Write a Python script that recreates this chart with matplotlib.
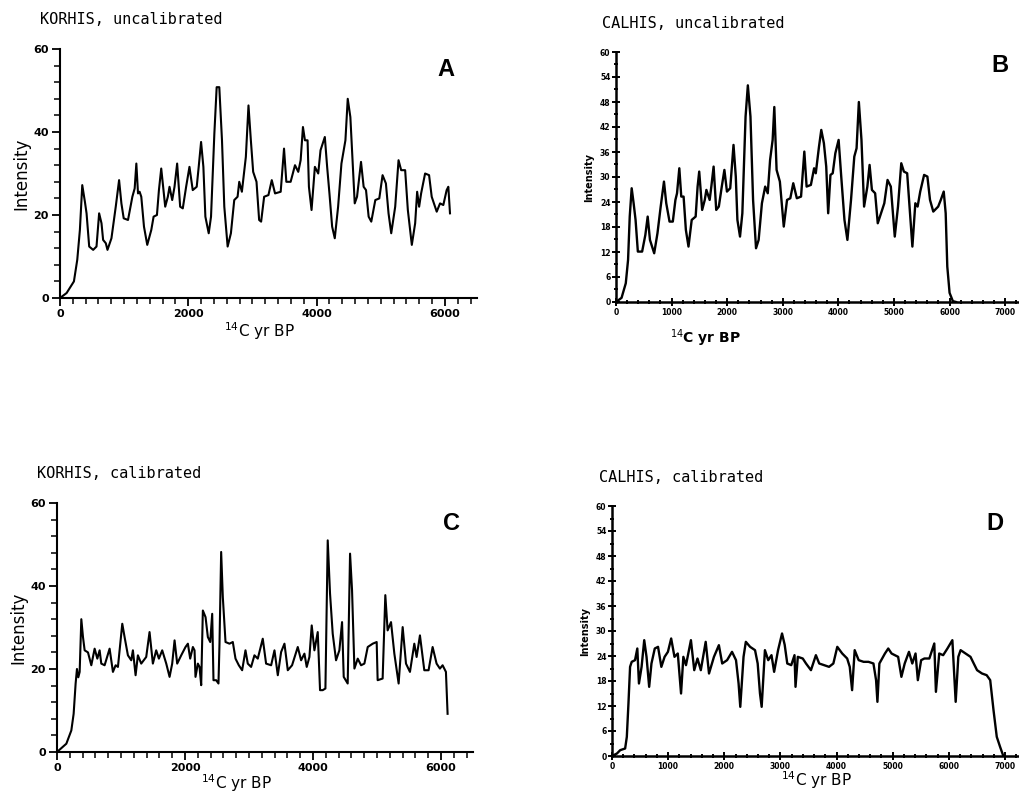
import matplotlib
matplotlib.use("Agg")
import matplotlib.pyplot as plt
from matplotlib.ticker import MultipleLocator

# Panel A: KORHIS, uncalibrated
a_year = [0, 103, 217, 269, 310, 347, 388, 414, 455, 517, 569, 610, 647, 672, 714, 740,
          802, 869, 921, 957, 993, 1060, 1128, 1164, 1190, 1216, 1241, 1267, 1309, 1360,
          1423, 1459, 1511, 1542, 1578, 1614, 1640, 1681, 1707, 1749, 1785, 1826, 1873,
          1914, 1966, 2018, 2069, 2131, 2162, 2199, 2235, 2266, 2318, 2354, 2406, 2442,
          2483, 2525, 2561, 2613, 2664, 2716, 2768, 2794, 2835, 2897, 2938, 2975, 3011,
          3063, 3104, 3135, 3182, 3249, 3301, 3352, 3440, 3492, 3528, 3595, 3663, 3714,
          3751, 3787, 3818, 3859, 3880, 3921, 3973, 4025, 4061, 4128, 4164, 4200, 4242,
          4283, 4335, 4387, 4449, 4485, 4526, 4552, 4594, 4630, 4692, 4733, 4770, 4811,
          4852, 4915, 4977, 5028, 5080, 5121, 5163, 5225, 5277, 5318, 5380, 5422, 5484,
          5536, 5567, 5598, 5629, 5691, 5753, 5794, 5872, 5924, 5975, 6027, 6053, 6079]
a_int = [0, 1.2, 4, 9.2, 16.4, 27.2, 23.2, 20.4, 12.4, 11.6, 12.4, 20.4, 18, 14, 13.2, 11.6,
         14.4, 22, 28.4, 22.8, 19.2, 18.8, 24.4, 26.4, 32.4, 25.2, 25.6, 24.4, 17.2, 12.8,
         16.4, 19.6, 20, 26, 31.2, 26, 22, 24.4, 26.8, 23.6, 26.8, 32.4, 22,
         21.6, 26.8, 31.6, 26, 26.8, 31.6, 37.6, 31.6, 19.6, 15.6, 19.6, 39.6, 50.8,
         50.8, 38, 22, 12.4, 15.6, 23.6, 24.4, 28, 25.6, 34, 46.4, 38, 30.4,
         28, 18.8, 18.4, 24.4, 24.8, 28.4, 25.2, 25.6, 36, 28, 28, 32, 30.4,
         33.2, 41.2, 38, 38, 26.8, 21.2, 31.6, 30, 35.6, 38.8, 31.6, 25.2, 17.2,
         14.4, 22, 32.4, 38, 48, 43.6, 35.6, 22.8, 24.4, 32.8, 26.8, 26, 19.6,
         18.4, 23.6, 24, 29.6, 27.6, 20.4, 15.6, 22, 33.2, 30.8, 30.8, 21.2, 12.8,
         18, 25.6, 22, 25.2, 30, 29.6, 24.4, 20.8, 22.8, 22.4, 26, 26.8, 20.4]

# Panel B: CALHIS, uncalibrated
b_year = [0, 100, 176, 217, 247, 282, 317, 352, 393, 470, 528, 570, 611, 687, 746, 804,
          863, 904, 963, 1022, 1069, 1098, 1139, 1174, 1216, 1257, 1304, 1362, 1433, 1468,
          1497, 1550, 1597, 1626, 1685, 1715, 1756, 1803, 1850, 1903, 1950, 1996, 2055,
          2114, 2155, 2184, 2231, 2273, 2331, 2372, 2419, 2466, 2519, 2566, 2625, 2684,
          2730, 2772, 2818, 2848, 2889, 2948, 3018, 3077, 3136, 3189, 3253, 3329, 3388,
          3429, 3506, 3564, 3594, 3652, 3693, 3740, 3782, 3817, 3858, 3899, 3946, 4005,
          4052, 4110, 4163, 4228, 4287, 4328, 4369, 4416, 4463, 4522, 4562, 4604, 4662,
          4709, 4768, 4827, 4885, 4944, 5015, 5073, 5132, 5179, 5238, 5285, 5332, 5385,
          5426, 5473, 5543, 5602, 5649, 5708, 5796, 5843, 5896, 5931, 5960, 6001, 6060, 6118]
b_int = [0, 1, 4.5, 10.1, 20.5, 27.3, 23.7, 19.7, 12.1, 12.1, 16.1, 20.5, 14.9, 11.7, 16.5, 22.9,
         28.9, 23.7, 19.3, 19.3, 24.5, 26.1, 32.1, 25.3, 25.3, 17.3, 13.3, 19.7, 20.5, 27.7,
         31.3, 22.1, 24.5, 26.9, 24.5, 27.7, 32.5, 22.1, 22.9, 27.7, 31.7, 26.5, 27.3,
         37.7, 30.1, 19.7, 15.7, 21.3, 44.5, 52, 44.5, 24.5, 12.9, 14.9, 23.7, 27.7,
         26.1, 34.1, 38.9, 46.8, 31.7, 28.9, 18.1, 24.5, 24.9, 28.5, 24.9, 25.3, 36.1,
         27.7, 28.1, 32.1, 30.9, 37.3, 41.3, 38.1, 32.5, 21.3, 30.5, 30.9, 35.7, 38.9,
         30.1, 19.7, 14.9, 24.5, 34.9, 36.9, 48, 38.9, 22.9, 27.7, 32.9, 26.9, 26.1,
         18.9, 21.3, 23.7, 29.3, 27.7, 15.7, 22.9, 33.3, 31.3, 30.9, 22.1, 13.3, 23.7,
         22.9, 26.5, 30.5, 30.1, 24.5, 21.7, 22.9, 24.5, 26.5, 21.3, 8.5, 2.2, 0.2, 0]

# Panel C: KORHIS, calibrated
c_year = [0, 146, 224, 260, 291, 312, 333, 354, 380, 406, 432, 484, 536, 588, 630, 666,
          692, 744, 822, 874, 916, 952, 989, 1020, 1056, 1108, 1160, 1186, 1228, 1264,
          1316, 1394, 1446, 1498, 1550, 1592, 1644, 1707, 1759, 1800, 1837, 1878, 1941,
          2008, 2045, 2081, 2123, 2149, 2164, 2201, 2227, 2253, 2279, 2321, 2357, 2394,
          2425, 2445, 2487, 2523, 2539, 2565, 2591, 2633, 2695, 2747, 2789, 2841, 2893,
          2945, 2981, 3033, 3085, 3137, 3215, 3267, 3346, 3398, 3450, 3502, 3554, 3606,
          3673, 3762, 3814, 3866, 3902, 3944, 3980, 4022, 4074, 4110, 4152, 4194, 4230,
          4266, 4308, 4360, 4412, 4454, 4480, 4542, 4579, 4610, 4647, 4699, 4751, 4803,
          4855, 4933, 4995, 5010, 5088, 5130, 5166, 5219, 5271, 5338, 5401, 5453, 5515,
          5583, 5619, 5671, 5739, 5806, 5869, 5931, 5983, 6025, 6077, 6103]
c_int = [0, 2, 5.2, 9.2, 16.5, 20, 18, 19.3, 32, 27.7, 24.5, 24, 20.9, 24.9, 22.5, 24.5,
         21.3, 20.9, 24.9, 19.3, 20.9, 20.5, 26.1, 30.9, 27.7, 23.3, 22.1, 24.5, 18.5, 23.3,
         21.3, 22.9, 28.9, 21.3, 24.5, 22.5, 24.5, 21.3, 18.1, 21.3, 26.9, 21.3, 23.3,
         25.3, 26.1, 22.5, 25.3, 24.5, 18.1, 21.3, 20.5, 16.1, 34.1, 32.5, 27.7, 26.5,
         33.3, 17.3, 17.3, 16.5, 26.1, 48.2, 37.3, 26.5, 26.1, 26.5, 22.5, 20.9, 19.7,
         24.5, 21.3, 20.5, 23.3, 22.5, 27.3, 21.3, 20.9, 24.5, 18.5, 24.1, 26.1, 19.7,
         20.9, 25.3, 22.1, 23.7, 20.5, 22.9, 30.5, 24.5, 28.9, 14.9, 14.9, 15.3, 51,
         38.2, 28.5, 22.1, 24.5, 31.3, 18.1, 16.5, 47.8, 39, 20.1, 22.5, 20.9, 21.3,
         25.3, 26.1, 26.5, 17.3, 17.7, 37.8, 29.3, 31.3, 23.7, 16.5, 30.1, 21.3, 19.3,
         26.1, 22.9, 28.1, 19.7, 19.7, 25.3, 21.3, 20.1, 20.9, 19.3, 9.2]

# Panel D: CALHIS, calibrated
d_year = [0, 88, 146, 234, 264, 293, 322, 351, 410, 451, 480, 527, 574, 615, 662, 703,
          762, 820, 879, 937, 996, 1054, 1113, 1172, 1230, 1271, 1318, 1406, 1465, 1523,
          1582, 1669, 1728, 1816, 1904, 1963, 2050, 2138, 2209, 2255, 2285, 2343, 2384,
          2460, 2548, 2595, 2636, 2666, 2724, 2783, 2841, 2888, 2958, 3029, 3076, 3122,
          3193, 3251, 3269, 3310, 3398, 3456, 3544, 3632, 3691, 3779, 3866, 3943, 4013,
          4101, 4189, 4235, 4277, 4323, 4394, 4482, 4569, 4657, 4704, 4728, 4763, 4862,
          4921, 4980, 5038, 5097, 5155, 5214, 5290, 5349, 5407, 5448, 5507, 5565, 5653,
          5741, 5770, 5829, 5899, 5975, 6063, 6122, 6169, 6210, 6298, 6386, 6444, 6503,
          6591, 6674, 6737, 6796, 6854, 6913, 6971]
d_int = [0, 0.6, 1.4, 1.8, 4.6, 12.6, 21.4, 22.6, 23, 25.8, 17.4, 21.4, 27.8, 23.8, 16.6, 22.2,
         25.8, 26.2, 21.4, 23.8, 25, 28.2, 23.8, 24.6, 15, 23.8, 21.8, 27.8, 20.6, 23.4,
         20.6, 27.4, 19.8, 23.8, 26.6, 22.2, 23, 25, 23, 17.4, 11.8, 23.8, 27.4,
         26.2, 25.4, 22.2, 15, 11.8, 25.4, 23, 24.2, 20.2, 25.4, 29.4, 26.7, 22.2,
         21.8, 24.2, 16.6, 23.8, 23.4, 22.2, 20.6, 24.2, 22.2, 21.8, 21.4, 22.2, 26.2,
         24.6, 23.4, 21.4, 15.8, 25.4, 23, 22.6, 22.6, 22.2, 18.2, 13, 22.2, 24.6,
         25.8, 24.6, 24.2, 23.8, 19, 22.2, 25, 22.2, 24.6, 18.2, 23, 23.4, 23.4,
         27, 15.4, 24.6, 24.2, 25.8, 27.8, 13, 23.8, 25.4, 24.6, 23.8, 22.2, 20.6,
         19.8, 19.4, 18.2, 11, 4.6, 2.2, 0]

titles = ["KORHIS, uncalibrated", "CALHIS, uncalibrated", "KORHIS, calibrated", "CALHIS, calibrated"]
letters = ["A", "B", "C", "D"]
xlab = r"$^{14}$C yr BP"

W, H = 1019, 796
fig = plt.figure(figsize=(W / 100, H / 100), dpi=100)


def px(x, y):
    return x / W, 1 - y / H


def box(left, top, right, bottom):
    return [left / W, 1 - bottom / H, (right - left) / W, (bottom - top) / H]


def style_kor(ax, xmax):
    # KORHIS panels: outward ticks, plain labels
    ax.set_xlim(0, xmax)
    ax.set_ylim(0, 60)
    for s in ["top", "right"]:
        ax.spines[s].set_visible(False)
    for s in ["left", "bottom"]:
        ax.spines[s].set_linewidth(1.5)
    ax.xaxis.set_major_locator(MultipleLocator(2000))
    ax.xaxis.set_minor_locator(MultipleLocator(200))
    ax.yaxis.set_major_locator(MultipleLocator(20))
    ax.yaxis.set_minor_locator(MultipleLocator(4))
    ax.tick_params(which="major", direction="out", length=6, width=1.3, labelsize=8, pad=2)
    ax.tick_params(which="minor", direction="out", length=4, width=1.1)
    for lab in ax.get_xticklabels() + ax.get_yticklabels():
        lab.set_fontweight("bold")
    ax.set_ylabel("Intensity", fontsize=12, labelpad=2)


def style_cal(ax, xmax):
    # CALHIS panels: crossing ticks, tiny bold labels
    ax.set_xlim(0, xmax)
    ax.set_ylim(0, 60)
    for s in ["top", "right"]:
        ax.spines[s].set_visible(False)
    for s in ["left", "bottom"]:
        ax.spines[s].set_linewidth(1.8)
    ax.xaxis.set_major_locator(MultipleLocator(1000))
    ax.xaxis.set_minor_locator(MultipleLocator(200))
    ax.yaxis.set_major_locator(MultipleLocator(6))
    ax.yaxis.set_minor_locator(MultipleLocator(3))
    ax.tick_params(which="major", direction="inout", length=6, width=1.4, labelsize=5.5, pad=1)
    ax.tick_params(which="minor", direction="inout", length=3, width=1.4)
    for lab in ax.get_xticklabels() + ax.get_yticklabels():
        lab.set_fontweight("bold")
    ax.set_ylabel("Intensity", fontsize=7, fontweight="bold", labelpad=4)


axA = fig.add_axes(box(60, 49, 477, 298))
axB = fig.add_axes(box(616, 52, 1019, 302))
axC = fig.add_axes(box(57, 503, 473, 752))
axD = fig.add_axes(box(612, 506, 1019, 756))

axA.plot(a_year, a_int, color="black", lw=1.5)
axB.plot(b_year, b_int, color="black", lw=1.7)
axC.plot(c_year, c_int, color="black", lw=1.5)
axD.plot(d_year, d_int, color="black", lw=1.7)

style_kor(axA, 6500)
style_kor(axC, 6500)
style_cal(axB, 7250)
style_cal(axD, 7250)

# panel titles
mono = "DejaVu Sans Mono"
fig.text(*px(40, 20), titles[0], fontsize=11, family=mono, va="center", ha="left")
fig.text(*px(602, 24), titles[1], fontsize=11, family=mono, va="center", ha="left")
fig.text(*px(37, 473), titles[2], fontsize=11, family=mono, va="center", ha="left")
fig.text(*px(599, 477), titles[3], fontsize=11, family=mono, va="center", ha="left")

# panel letters
for (x, y), t in zip([(446, 70), (1000, 66), (452, 523), (995, 524)], letters):
    fig.text(*px(x, y), t, fontsize=17, fontweight="bold", family="Liberation Sans",
             ha="center", va="center")

# x-axis labels
fig.text(*px(260, 331), xlab, fontsize=11, ha="center", va="center")
fig.text(*px(705, 338), xlab, fontsize=10, fontweight="bold", ha="center", va="center")
fig.text(*px(237, 783), xlab, fontsize=11, ha="center", va="center")
fig.text(*px(817, 780), xlab, fontsize=11, ha="center", va="center")

fig.savefig("out.png", dpi=100)
